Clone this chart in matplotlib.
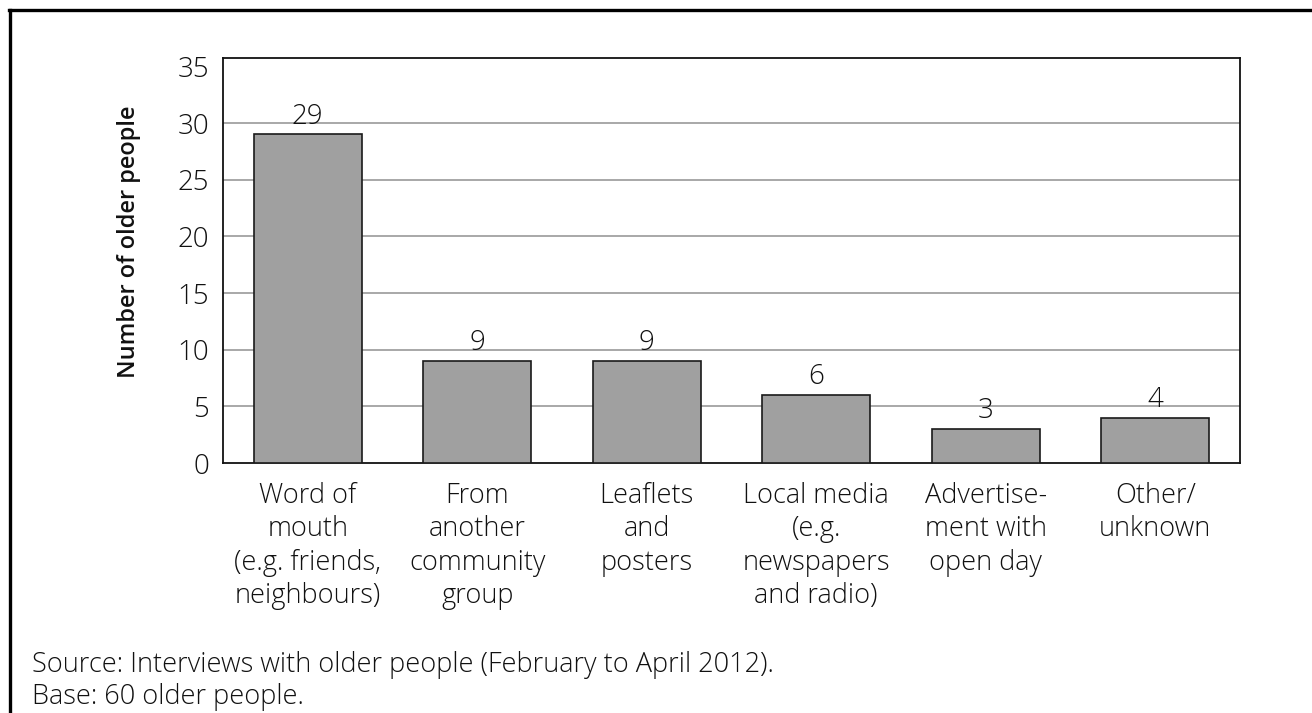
import matplotlib.pyplot as plt
from matplotlib.lines import Line2D

plt.rcParams['font.family'] = ['Open Sans', 'DejaVu Sans']
plt.rcParams['font.weight'] = 'light'

categories = [
    "Word of\nmouth\n(e.g. friends,\nneighbours)",
    "From\nanother\ncommunity\ngroup",
    "Leaflets\nand\nposters",
    "Local media\n(e.g.\nnewspapers\nand radio)",
    "Advertise-\nment with\nopen day",
    "Other/\nunknown",
]
counts = [29, 9, 9, 6, 3, 4]
yticks = [0, 5, 10, 15, 20, 25, 30, 35]

W, H = 1312, 713
fig = plt.figure(figsize=(W / 100, H / 100), dpi=100)
ax = fig.add_axes([223 / W, 1 - 463 / H, (1240 - 223) / W, (463 - 58) / H])

x = range(len(counts))
bars = ax.bar(x, counts, width=0.64, color='#a0a0a0', edgecolor='#1a1a1a',
              linewidth=1.2, zorder=3)
for b, v in zip(bars, counts):
    ax.text(b.get_x() + b.get_width() / 2, v + 0.95, str(v), ha='center',
            va='baseline', fontsize=20, color='#111111', zorder=4)

# horizontal gridlines, none on the top tick
for t in yticks[1:-1]:
    ax.axhline(t, color='#9a9a9a', linewidth=1.2, zorder=0)

ax.set_xlim(-0.5, len(counts) - 0.5)
ax.set_ylim(0, 35.75)
ax.set_yticks(yticks)
ax.set_yticklabels([str(t) for t in yticks], fontsize=20)
ax.set_xticks(list(x))
ax.set_xticklabels(categories, fontsize=19.5, linespacing=1.24, va='top')
ax.tick_params(axis='both', length=0, pad=10, colors='#111111')
ax.tick_params(axis='x', pad=14)
for s in ax.spines.values():
    s.set_color('#111111')
    s.set_linewidth(1.3)

fig.text(129 / W, 1 - 242 / H, "Number of older people", rotation=90,
         ha='center', va='center', fontsize=17, fontweight='semibold',
         color='#111111')

fig.text(32 / W, 1 - 665 / H, "Source: Interviews with older people (February to April 2012).",
         ha='left', va='center', fontsize=19.5, color='#111111')
fig.text(32 / W, 1 - 697 / H, "Base: 60 older people.",
         ha='left', va='center', fontsize=19.5, color='#111111')

# frame lines along the left and top edges
fig.add_artist(Line2D([9.5 / W, 9.5 / W], [0, 1 - 9.5 / H], transform=fig.transFigure,
                      color='black', linewidth=2.4))
fig.add_artist(Line2D([8.5 / W, 1], [1 - 9.5 / H, 1 - 9.5 / H], transform=fig.transFigure,
                      color='black', linewidth=2.4))

fig.savefig('out.png', dpi=100, facecolor='white')
